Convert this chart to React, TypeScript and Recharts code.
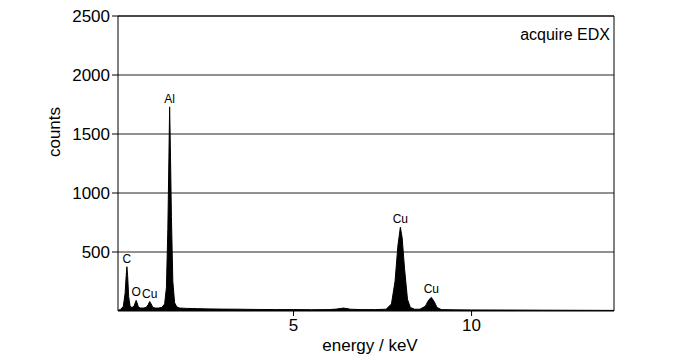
import React from 'react';
import { ComposedChart, Area, XAxis, YAxis, CartesianGrid, ReferenceLine, ReferenceDot } from 'recharts';

// spectrum: energy (keV) / counts
const energies = [
    0.07, 0.15, 0.22, 0.27, 0.3, 0.32, 0.34, 0.37, 0.41, 0.46, 0.52, 0.56, 0.58, 0.6, 0.64, 0.7, 0.78, 0.86, 0.92,
    0.96, 1.0, 1.05, 1.12, 1.2, 1.3, 1.38, 1.43, 1.47, 1.5, 1.52, 1.54, 1.57, 1.61, 1.66, 1.72, 1.8, 2.0, 2.3, 2.6,
    3.0, 3.5, 4.0, 4.5, 5.0, 5.5, 6.0, 6.2, 6.4, 6.6, 6.9, 7.3, 7.6, 7.75, 7.85, 7.93, 8.0, 8.05, 8.12, 8.2, 8.28,
    8.4, 8.55, 8.7, 8.8, 8.87, 8.95, 9.03, 9.15, 9.5, 10, 11, 12, 13, 14,
];
const counts = [
    5, 15, 40, 150, 300, 375, 300, 120, 40, 30, 40, 75, 90, 75, 35, 25, 25, 30, 55,
    80, 60, 30, 25, 25, 30, 60, 200, 700, 1300, 1730, 1400, 800, 250, 70, 35, 25, 22, 20, 18,
    16, 15, 13, 12, 12, 11, 12, 16, 25, 15, 12, 12, 15, 60, 250, 550, 710, 620, 350, 100, 30,
    15, 15, 40, 95, 115, 80, 30, 12, 10, 9, 8, 7, 6, 5,
];

const peakNames = ['C', 'O', 'Cu', 'Al', 'Cu', 'Cu'];
const peakEnergies = [0.32, 0.58, 0.96, 1.52, 8.0, 8.87];
const peakCounts = [375, 90, 80, 1730, 710, 115];

const yTicks = [500, 1000, 1500, 2000, 2500];
const xTicks = [5, 10];

const spectrum = energies.map((e, i) => ({ energy: e, counts: counts[i] }));

const font = '"Liberation Sans", Arial, sans-serif';

export default function App() {
    return (
        <div style={{ position: 'absolute', left: 0, top: 0, width: 700, height: 360, fontFamily: font }}>
            <ComposedChart
                width={700}
                height={360}
                data={spectrum}
                margin={{ top: 16, right: 86, bottom: 0, left: 0 }}
            >
                <CartesianGrid vertical={false} stroke="#222" horizontalValues={yTicks} />
                <XAxis
                    type="number"
                    dataKey="energy"
                    domain={[0.07, 14]}
                    ticks={xTicks}
                    allowDataOverflow
                    height={49}
                    tickSize={5}
                    tickMargin={3}
                    stroke="#000"
                    tick={{ fill: '#000', fontSize: 17, fontFamily: font }}
                    label={{ value: 'energy / keV', position: 'insideBottom', offset: 9, dx: 4, fill: '#000', fontSize: 17, fontFamily: font }}
                />
                <YAxis
                    type="number"
                    domain={[0, 2500]}
                    ticks={yTicks}
                    width={118}
                    tickSize={6}
                    stroke="#000"
                    tick={{ fill: '#000', fontSize: 17, fontFamily: font }}
                />
                <ReferenceLine x={14} stroke="#000" />
                <ReferenceLine y={2500} stroke="#000" />
                <Area
                    type="linear"
                    dataKey="counts"
                    stroke="#000"
                    strokeWidth={1}
                    fill="#000"
                    fillOpacity={1}
                    baseValue={0}
                    dot={false}
                    activeDot={false}
                    isAnimationActive={false}
                />
                {peakNames.map((name, i) => (
                    <ReferenceDot
                        key={i}
                        x={peakEnergies[i]}
                        y={peakCounts[i]}
                        r={0}
                        stroke="none"
                        label={{ value: name, position: 'top', offset: 4, fill: '#000', fontSize: 12, fontFamily: font }}
                    />
                ))}
            </ComposedChart>
            <div
                style={{
                    position: 'absolute',
                    left: 55,
                    top: 132,
                    transform: 'translate(-50%, -50%) rotate(-90deg)',
                    fontSize: 17,
                    whiteSpace: 'nowrap',
                }}
            >
                counts
            </div>
            <div style={{ position: 'absolute', right: 90, top: 26, fontSize: 16, whiteSpace: 'nowrap' }}>acquire EDX</div>
        </div>
    );
}
